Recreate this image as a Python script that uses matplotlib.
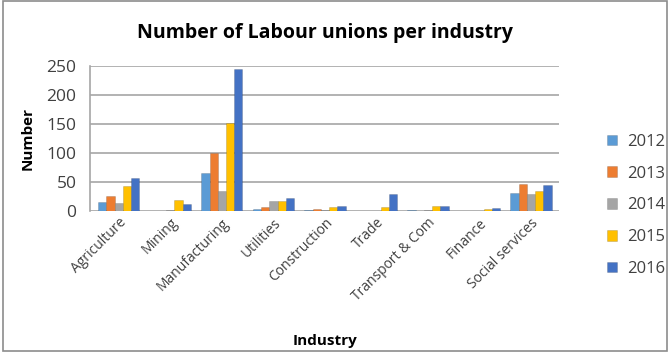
import matplotlib
matplotlib.use("Agg")
import matplotlib.pyplot as plt
import numpy as np
from matplotlib.patches import Rectangle

industries = ["Agriculture", "Mining", "Manufacturing", "Utilities", "Construction",
              "Trade", "Transport & Com", "Finance", "Social services"]
years = ["2012", "2013", "2014", "2015", "2016"]
v2012 = [15, 1, 65, 4, 2, 1, 2, 1, 31]
v2013 = [27, 1, 100, 8, 3, 1, 1, 1, 47]
v2014 = [14, 2, 35, 18, 2, 1, 2, 1, 30]
v2015 = [43, 19, 152, 17, 8, 8, 9, 3, 34]
v2016 = [57, 13, 245, 23, 9, 29, 9, 6, 45]
colors = ["#5B9BD5", "#ED7D31", "#A5A5A5", "#FFC000", "#4472C4"]

plt.rcParams["font.family"] = ["Open Sans", "DejaVu Sans"]

fig = plt.figure(figsize=(6.7, 3.52), dpi=100)
fig.patches.append(Rectangle((0.004, 0.004), 0.992, 0.992, transform=fig.transFigure,
                             fill=False, edgecolor="#8c8c8c", lw=1.2))
ax = fig.add_axes([0.135, 0.40, 0.70, 0.412])

x = np.arange(len(industries))
w = 0.16
for i, (vals, col, yr) in enumerate(zip([v2012, v2013, v2014, v2015, v2016], colors, years)):
    ax.bar(x + (i - 2) * w, vals, w, color=col, label=yr, zorder=3,
           edgecolor="#00000030", linewidth=0.5)

ax.set_ylim(0, 250)
ax.set_xlim(-0.55, len(industries) - 0.45)
ax.set_yticks([0, 50, 100, 150, 200, 250])
ax.tick_params(axis="y", length=0, labelsize=12.5, pad=10, colors="#404040")
ax.tick_params(axis="x", length=0, labelsize=10, colors="#404040", pad=3)
ax.set_xticks(x)
ax.set_xticklabels(industries, rotation=45, ha="right", rotation_mode="anchor")
ax.grid(axis="y", color="#a6a6a6", lw=1.2, zorder=0)
for s in ["top", "right", "bottom"]:
    ax.spines[s].set_visible(False)
ax.spines["left"].set_color("#a6a6a6")
ax.spines["left"].set_linewidth(1.2)

ax.set_ylabel("Number", fontsize=11, fontweight="bold")
ax.yaxis.set_label_coords(-0.12, 0.5)
ax.set_xlabel("Industry", fontsize=11, fontweight="bold")
ax.xaxis.set_label_coords(0.5, -0.85)
ax.set_title("Number of Labour unions per industry", fontsize=14, fontweight="bold",
             pad=20)

ax.legend(loc="center left", bbox_to_anchor=(1.07, 0.04), frameon=False,
          fontsize=12, handlelength=0.6, handleheight=0.6, labelspacing=0.95,
          handletextpad=0.6, labelcolor="#404040")

fig.savefig("out.png", dpi=100)
